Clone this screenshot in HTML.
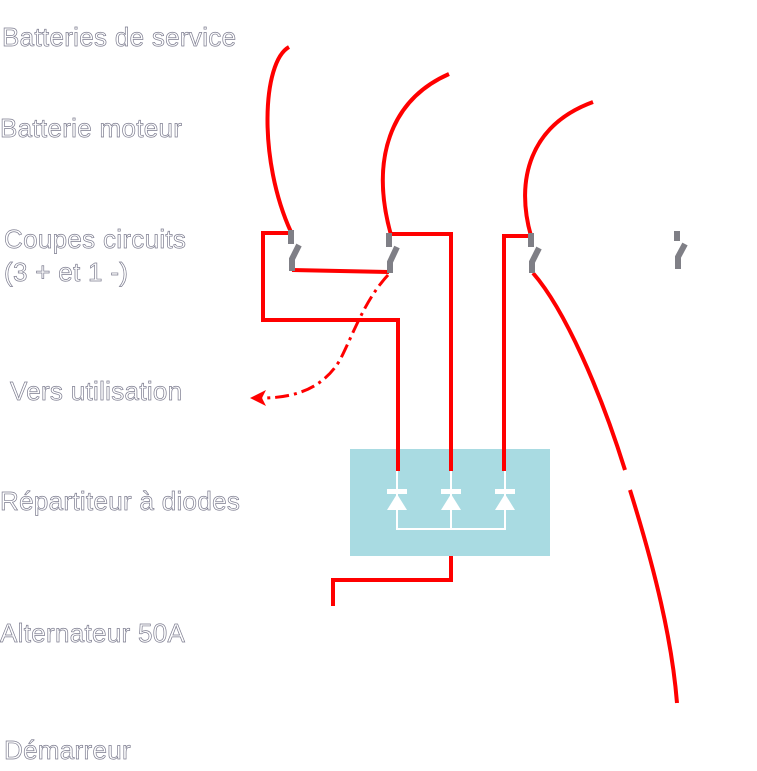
<!DOCTYPE html>
<html><head><meta charset="utf-8"><style>
html,body{margin:0;padding:0;background:#fff;width:757px;height:771px;overflow:hidden}
svg{display:block}
text{font-family:"Liberation Sans",sans-serif;font-size:26px;letter-spacing:0.3px;fill:#fff;stroke:#7d7d90;stroke-width:0.7px}
</style></head><body>
<svg width="757" height="771" viewBox="0 0 757 771" xmlns="http://www.w3.org/2000/svg">
<text x="2" y="46">Batteries de service</text>
<text x="0" y="137">Batterie moteur</text>
<text x="4" y="248">Coupes circuits</text>
<text x="4" y="281">(3 + et 1 -)</text>
<text x="10" y="400">Vers utilisation</text>
<text x="0" y="510">Répartiteur à diodes</text>
<text x="0" y="642">Alternateur 50A</text>
<text x="4" y="759">Démarreur</text>

<rect x="350" y="449" width="200" height="107" fill="#a9dbe2"/>
<g fill="none" stroke="#fff" stroke-width="2">
<path d="M397 471 V529 H505 V471 M451 471 V529"/>
</g>
<g fill="#fff">
<rect x="387" y="489" width="20" height="5"/><polygon points="397,494 387,510 407,510"/>
<rect x="441" y="489" width="20" height="5"/><polygon points="451,494 441,510 461,510"/>
<rect x="495" y="489" width="20" height="5"/><polygon points="505,494 495,510 515,510"/>
</g>

<g fill="none" stroke="#f00" stroke-width="4" stroke-linejoin="miter">
<path d="M289 47 C262 62 258 160 291 232"/>
<path d="M449 74 C390 100 370 160 391 235"/>
<path d="M593 102 C530 125 515 180 531 236"/>
<path d="M291 233 H263 V320 H398 V471"/>
<path d="M292 270 L389 272"/>
<path d="M391 234 H451 V471"/>
<path d="M531 236 H504 V471"/>
<path d="M451 556 V580 H333 V606"/>
<path d="M533 273 C565 310 600 390 625 470"/>
<path d="M630 490 C655 570 672 640 677 703"/>
</g>
<path d="M388 275 C365 300 355 330 340 360 C325 385 300 398 262 398" fill="none" stroke="#f00" stroke-width="3" stroke-dasharray="14 5 3 5"/>
<polygon points="250,398 266,390 262,398 266,406" fill="#f00"/>

<g fill="none" stroke="#7f7f86" stroke-width="6">
<path d="M291 230 V244"/><path d="M299 245 L292 259 V271"/>
<path d="M389 233 V247"/><path d="M397 247 L390 262 V273"/>
<path d="M531 233 V247"/><path d="M539 248 L532 262 V273"/>
<path d="M677 231 V241"/><path d="M685 244 L678 257 V269"/>
</g>
</svg>
</body></html>
